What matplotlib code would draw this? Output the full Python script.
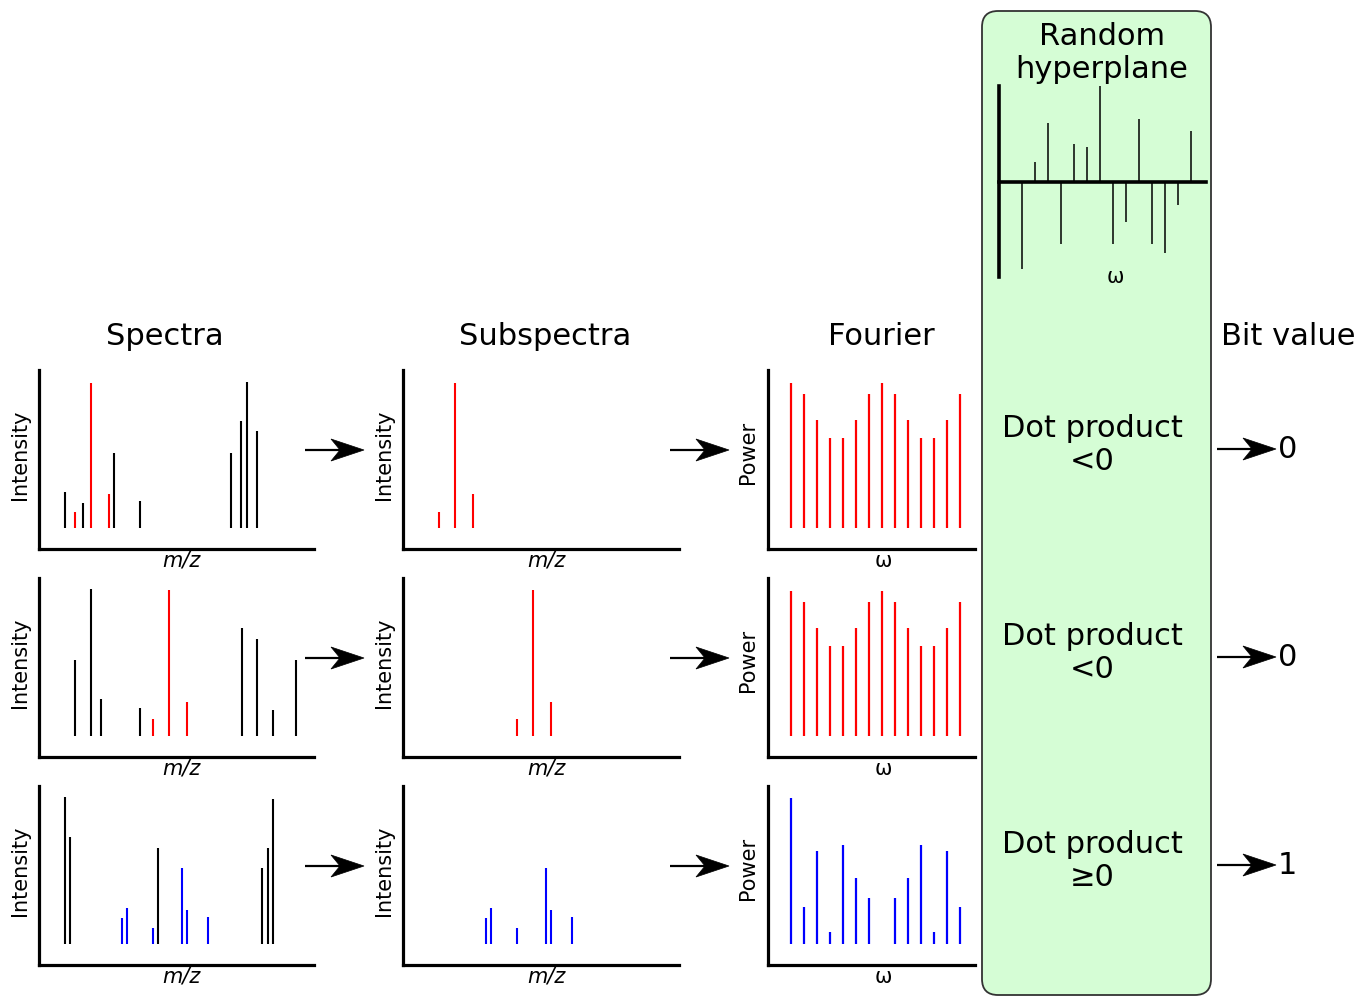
import matplotlib
matplotlib.use("Agg")
import matplotlib.pyplot as plt
from matplotlib.patches import FancyBboxPatch, Polygon

plt.rcParams['font.family'] = ['DejaVu Sans']

W, H = 1358, 996

# =============================================================================
# data (positions / heights in arbitrary units, one list per row)
# =============================================================================
spec1_pos = [26, 36, 44, 52, 70, 75, 101, 192, 202, 208, 218]
spec1_int = [36, 16, 25, 145, 34, 75, 27, 75, 107, 146, 97]
spec1_sel = [0, 1, 0, 1, 1, 0, 0, 0, 0, 0, 0]

spec2_pos = [36, 52, 62, 101, 114, 130, 148, 203, 218, 234, 257]
spec2_int = [76, 147, 37, 28, 17, 146, 34, 108, 97, 26, 76]
spec2_sel = [0, 0, 0, 0, 1, 1, 1, 0, 0, 0, 0]

spec3_pos = [26, 31, 83, 88, 114, 119, 143, 148, 169, 223, 229, 234]
spec3_int = [147, 107, 26, 36, 16, 96, 76, 34, 27, 76, 96, 145]
spec3_sel = [0, 0, 1, 1, 1, 0, 1, 1, 1, 0, 0, 0]

freq_bins = list(range(14))
power1 = [145, 134, 108, 90, 90, 108, 134, 145, 134, 108, 90, 90, 108, 134]
power2 = [145, 134, 108, 90, 90, 108, 134, 145, 134, 108, 90, 90, 108, 134]
power3 = [146, 37, 93, 12, 99, 66, 46, 0, 46, 66, 99, 12, 93, 37]

hyperplane = [-87, 20, 59, -62, 38, 35, 99, -62, -40, 63, -62, -71, -23, 51]

row_colors = ['#ff0000', '#ff0000', '#0000ff']
dot_texts = ['Dot product\n<0', 'Dot product\n<0', 'Dot product\n\u22650']
bits = ['0', '0', '1']

rows = [(spec1_pos, spec1_int, spec1_sel, power1),
        (spec2_pos, spec2_int, spec2_sel, power2),
        (spec3_pos, spec3_int, spec3_sel, power3)]


def px_axes(fig, left, top, right, bottom):
    """add an axes given pixel edges (top-left origin)"""
    ax = fig.add_axes([left / W, 1 - bottom / H, (right - left) / W, (bottom - top) / H])
    ax.set_facecolor('none')
    return ax


def style_panel(ax, width):
    ax.set_xlim(0, width)
    ax.set_ylim(-21, 158)
    for s in ['top', 'right']:
        ax.spines[s].set_visible(False)
    for s in ['left', 'bottom']:
        ax.spines[s].set_linewidth(2.3)
        ax.spines[s].set_capstyle('projecting')
    ax.set_xticks([])
    ax.set_yticks([])


def draw_arrow(ax, x0, x1, y):
    ax.plot([x0, x1 - 20], [y, y], color='black', lw=1.6, solid_capstyle='butt')
    head = Polygon([(x1, y), (x1 - 33, y - 11), (x1 - 24, y), (x1 - 33, y + 11)],
                   closed=True, facecolor='black', edgecolor='black', lw=0.5)
    ax.add_patch(head)


fig = plt.figure(figsize=(W / 100, H / 100), dpi=100)

# overlay in pixel coordinates for the box, arrows and text
ov = fig.add_axes([0, 0, 1, 1])
ov.set_xlim(0, W)
ov.set_ylim(H, 0)
ov.axis('off')

box = FancyBboxPatch((982, 11), 229, 984, boxstyle='round,pad=0,rounding_size=16',
                     facecolor='#d5fdd5', edgecolor='#333333', lw=1.3)
ov.add_patch(box)

ov.text(165, 336, 'Spectra', fontsize=22, ha='center', va='center')
ov.text(545, 336, 'Subspectra', fontsize=22, ha='center', va='center')
ov.text(881, 336, 'Fourier', fontsize=22, ha='center', va='center')
ov.text(1288, 336, 'Bit value', fontsize=22, ha='center', va='center')
ov.text(1102, 53, 'Random\nhyperplane', fontsize=22, ha='center', va='center',
        linespacing=1.2)

for i, (pos, inten, sel, power) in enumerate(rows):
    off = 208 * i
    top, bot = 370 + off, 549 + off
    col = row_colors[i]

    # spectra
    ax = px_axes(fig, 39, top, 314, bot)
    style_panel(ax, 275)
    ax.vlines(pos, 0, inten, colors=[col if s else 'black' for s in sel], lw=1.5)

    # subspectra
    sub_pos = [p for p, s in zip(pos, sel) if s]
    sub_int = [h for h, s in zip(inten, sel) if s]
    ax = px_axes(fig, 403, top, 679, bot)
    style_panel(ax, 276)
    ax.vlines(sub_pos, 0, sub_int, colors=col, lw=1.5)

    # fourier
    ax = px_axes(fig, 768, top, 975, bot)
    style_panel(ax, 207)
    fx = [23 + 13 * b for b in freq_bins]
    ax.vlines([x for x, p in zip(fx, power) if p > 0], 0, [p for p in power if p > 0],
              colors=col, lw=1.6)

    # labels
    ov.text(20, 455 + off, 'Intensity', fontsize=15, rotation=90, ha='center', va='center')
    ov.text(384, 455 + off, 'Intensity', fontsize=15, rotation=90, ha='center', va='center')
    ov.text(748, 452 + off, 'Power', fontsize=15, rotation=90, ha='center', va='center')
    ov.text(181, 560 + off, 'm/z', fontsize=15, style='italic', ha='center', va='center')
    ov.text(546, 560 + off, 'm/z', fontsize=15, style='italic', ha='center', va='center')
    ov.text(883, 561 + off, '\u03c9', fontsize=15, ha='center', va='center')

    draw_arrow(ov, 305, 364, 450 + off)
    draw_arrow(ov, 670, 729, 450 + off)
    draw_arrow(ov, 1217, 1276, 449 + off)
    ov.text(1092, 445 + off, dot_texts[i], fontsize=22, ha='center', va='center',
            linespacing=1.2)
    ov.text(1278, 449 + off, bits[i], fontsize=22, ha='left', va='center')

# random hyperplane
ax = px_axes(fig, 999, 86, 1206, 277)
ax.set_xlim(0, 207)
ax.set_ylim(-95, 96)
for s in ['top', 'right']:
    ax.spines[s].set_visible(False)
ax.spines['bottom'].set_position(('data', 0))
ax.spines['left'].set_linewidth(2.6)
ax.spines['bottom'].set_linewidth(2.6)
ax.set_xticks([])
ax.set_yticks([])
hx = [23 + 13 * b for b in freq_bins]
ax.vlines(hx, 0, hyperplane, colors='black', lw=1.1)
ov.text(1115, 277, '\u03c9', fontsize=15, ha='center', va='center')

fig.savefig('out.png', dpi=100)
